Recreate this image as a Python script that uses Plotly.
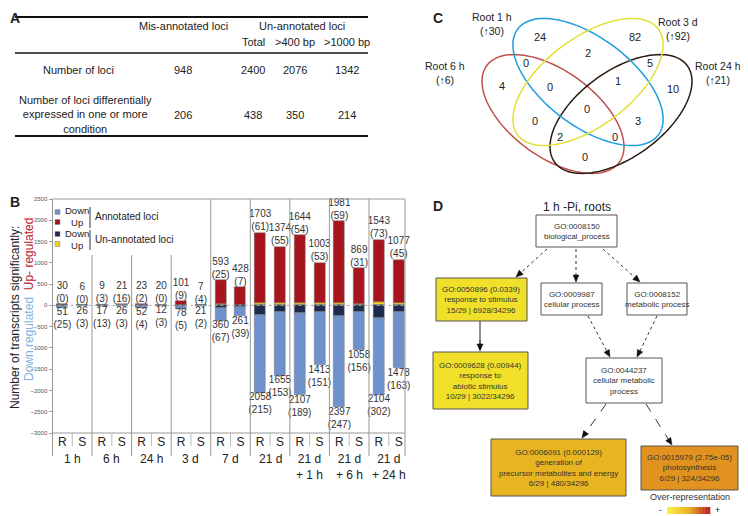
import math
import plotly.graph_objects as go

# the page body has an 8 px margin, so the figure is drawn 8 px in from the corner
OX, OY = 8, 8
W, H = 748, 516
FW, FH = W - OX, H - OY
FONT = "Arial, Liberation Sans, sans-serif"

# ---- panel A: table ----
table_cols = ["Mis-annotated loci", "Total", ">400 bp", ">1000 bp"]
table_rows = ["Number of loci",
              "Number of loci differentially<br>expressed in one or more<br>condition"]
loci_counts = [948, 2400, 2076, 1342]
de_counts = [206, 438, 350, 214]

# ---- panel B: differentially expressed transcripts ----
groups = ["1 h", "6 h", "24 h", "3 d", "7 d", "21 d",
          "21 d<br>+ 1 h", "21 d<br>+ 6 h", "21 d<br>+ 24 h"]
samples = ["R", "S"]
up_total = [30, 6, 9, 21, 23, 20, 101, 7, 593, 428,
            1703, 1374, 1644, 1003, 1981, 869, 1543, 1077]
up_unannotated = [0, 0, 3, 16, 2, 0, 9, 4, 25, 7,
                  61, 55, 54, 53, 59, 31, 73, 45]
down_total = [51, 26, 17, 26, 52, 12, 78, 21, 360, 261,
              2058, 1655, 2107, 1413, 2397, 1058, 2104, 1478]
down_unannotated = [25, 3, 13, 3, 4, 3, 5, 2, 67, 39,
                    215, 153, 189, 151, 247, 156, 302, 163]

# ---- panel C: venn ----
venn_sets = ["Root 1 h", "Root 3 d", "Root 6 h", "Root 24 h"]
venn_up = [30, 92, 6, 21]
venn_counts = [24, 82, 2, 0, 5, 4, 0, 1, 10, 0, 0, 3, 2, 0, 0]

# ---- panel D: GO graph ----
go_ids = ["GO:0008150", "GO:0050896", "GO:0009987", "GO:0008152",
          "GO:0009628", "GO:0044237", "GO:0006091", "GO:0015979"]
go_pvals = [None, "0.0339", None, None, "0.00944", None, "0.000129", "2.75e-05"]
go_names = ["biological_process", "response to stimulus", "cellular process",
            "metabolic process", "response to<br>abiotic stimulus",
            "cellular metabolic<br>process",
            "generation of<br>precursor metabolites and energy", "photosynthesis"]
go_counts = [None, "15/29 | 6928/34296", None, None, "10/29 | 3022/34296",
             None, "6/29 | 480/34296", "6/29 | 324/34296"]


def px(x):
    return (x - OX) / FW


def py(y):
    return 1 - (y - OY) / FH


shapes = []
annos = []


def text(x, y, s, size=11, color="#222", xanchor="center", yanchor="middle",
         bold=False, angle=0):
    if bold:
        s = "<b>" + s + "</b>"
    annos.append(dict(x=px(x), y=py(y), xref="paper", yref="paper", text=s,
                      showarrow=False, xanchor=xanchor, yanchor=yanchor,
                      textangle=angle, font=dict(size=size, color=color, family=FONT)))


def line(x0, y0, x1, y1, color="#333", width=1, dash="solid"):
    shapes.append(dict(type="line", xref="paper", yref="paper",
                       x0=px(x0), y0=py(y0), x1=px(x1), y1=py(y1),
                       line=dict(color=color, width=width, dash=dash)))


def rect(x0, y0, x1, y1, fill="white", color="#555", width=1):
    shapes.append(dict(type="rect", xref="paper", yref="paper",
                       x0=px(x0), y0=py(y0), x1=px(x1), y1=py(y1),
                       fillcolor=fill, line=dict(color=color, width=width)))


def path(pts, color, width=1.5, fill=None):
    d = "M " + " L ".join(f"{px(a):.5f},{py(b):.5f}" for a, b in pts) + " Z"
    shp = dict(type="path", xref="paper", yref="paper", path=d,
               line=dict(color=color, width=width))
    if fill:
        shp["fillcolor"] = fill
    shapes.append(shp)


def arrow(x0, y0, x1, y1, dash="dot"):
    L = math.hypot(x1 - x0, y1 - y0)
    ux, uy = (x1 - x0) / L, (y1 - y0) / L
    hl, hw = 7, 3
    bx, by = x1 - ux * hl, y1 - uy * hl
    line(x0, y0, bx, by, color="#333", width=1, dash=dash)
    path([(x1, y1), (bx - uy * hw, by + ux * hw), (bx + uy * hw, by - ux * hw)],
         "#111", width=0.5, fill="#111")


# ================= panel A =================
text(8, 8, "A", size=14, bold=True, xanchor="left", yanchor="top")
line(15, 17, 368, 17, color="#111", width=2)
line(15, 53, 368, 53, color="#111", width=1.5)
line(15, 136, 368, 136, color="#111", width=2)
col_x = [183, 253, 295, 347]
text(col_x[0], 26, table_cols[0])
text(302, 26, "Un-annotated loci")
for cx, c in zip(col_x[1:], table_cols[1:]):
    text(cx, 42, c)
text(78, 70, table_rows[0])
text(85, 115, table_rows[1])
for cx, a, b in zip(col_x, loci_counts, de_counts):
    text(cx, 70, str(a))
    text(cx, 115, str(b))

# ================= panel B =================
X0, X1, YT, YB, YLOW = 52.5, 405, 199, 433, 456
GW = (X1 - X0) / 8.91
text(8, 202, "B", size=14, bold=True, xanchor="left")

xs = [g + (0.25 if s == 0 else 0.75) for g in range(len(groups)) for s in range(2)]
BLUE, RED, NAVY, YEL = "#7092CC", "#A8141C", "#1F2B4E", "#F2D418"
bar_line = dict(color="#777", width=0.5)
fig = go.Figure()
fig.add_bar(x=xs, y=up_unannotated, marker=dict(color=YEL, line=bar_line), width=0.28)
fig.add_bar(x=xs, y=[t - u for t, u in zip(up_total, up_unannotated)],
            marker=dict(color=RED, line=bar_line), width=0.28)
fig.add_bar(x=xs, y=[-u for u in down_unannotated], marker=dict(color=NAVY, line=bar_line), width=0.28)
fig.add_bar(x=xs, y=[-(t - u) for t, u in zip(down_total, down_unannotated)],
            marker=dict(color=BLUE, line=bar_line), width=0.28)
fig.add_scatter(x=xs, y=up_total, mode="text", cliponaxis=False,
                text=[f"{t}<br>({u})" for t, u in zip(up_total, up_unannotated)],
                textposition="top center", textfont=dict(size=10, color="#333", family=FONT))
fig.add_scatter(x=xs, y=[-t for t in down_total], mode="text", cliponaxis=False,
                text=[f"{t}<br>({u})" for t, u in zip(down_total, down_unannotated)],
                textposition="bottom center", textfont=dict(size=10, color="#333", family=FONT))

# frame and separators
line(X0, YT, X1, YT, color="#999")
line(X0, YB, X1, YB, color="#999")
line(X0, YT, X0, YLOW, color="#999")
line(X1, YT, X1, YLOW, color="#999")
zero_y = YT + 2500 * (YB - YT) / 5500
line(X0, zero_y, X1, zero_y, color="#aaa", dash="dot")
for k in range(1, 9):
    gx = X0 + k * GW
    line(gx, 255 if k < 4 else YT, gx, YLOW, color="#999")
for k in range(9):
    mx = X0 + (k + 0.5) * GW
    line(mx, YB, mx, 446, color="#bbb")
    text(mx, 450, groups[k], size=12, yanchor="top")

# axis titles
text(15, 318, "Number of transcripts significantly:", size=12, angle=-90)
text(29, 300, '<span style="color:#7FB2E0">Down regulated</span>  '
              '<span style="color:#C0202A">Up- regulated</span>', size=12, angle=-90)

# in-plot legend
for yy, cols in [(217, (BLUE, RED)), (239, (NAVY, YEL))]:
    rect(55, yy - 7.5, 60, yy - 2.5, fill=cols[0], color="#888", width=0.5)
    rect(55, yy + 2.5, 60, yy + 7.5, fill=cols[1], color="#888", width=0.5)
    text(63, yy, "Down<br>Up", size=9.5, xanchor="left")
line(90, 207, 90, 228, color="#777", width=1.5)
line(90, 230, 90, 250, color="#777", width=1.5)
text(93, 217, "Annotated loci", size=10, xanchor="left")
text(93, 239, "Un-annotated loci", size=10, xanchor="left")

# ================= panel C =================
text(431, 8, "C", size=14, bold=True, xanchor="left", yanchor="top")


def ellipse(cx, cy, a, b, ang):
    t = math.radians(ang)
    pts = []
    for i in range(120):
        s = 2 * math.pi * i / 120
        ex, ey = a * math.cos(s), b * math.sin(s)
        pts.append((cx + ex * math.cos(t) - ey * math.sin(t),
                    cy + ex * math.sin(t) + ey * math.cos(t)))
    return pts


path(ellipse(553, 114, 82, 43, 36), "#C0504D")
path(ellipse(621, 114, 82, 43, -36), "#2B1A10")
path(ellipse(588, 82, 88, 44, 37), "#1E9FDD")
path(ellipse(588, 82, 88, 44, -37), "#E2E038")

venn_label_pos = [(492, 17), (678, 22), (445, 66), (718, 66)]
for (lx, ly), name, n in zip(venn_label_pos, venn_sets, venn_up):
    text(lx, ly, name, size=10.5)
    text(lx, ly + 14, f"(\u2191{n})", size=10.5)
venn_pos = [(540, 37), (635, 37), (588, 53), (526, 63), (650, 63), (502, 86),
            (550, 87), (618, 81), (673, 89), (587, 109), (535, 121), (638, 121),
            (560, 137), (615, 137), (585, 157)]
for (vx, vy), n in zip(venn_pos, venn_counts):
    text(vx, vy, str(n), size=11)

# ================= panel D =================
text(431, 206, "D", size=14, bold=True, xanchor="left")
text(577, 207, "1 h -Pi, roots", size=12)
boxes = [(536, 215, 617, 247), (436, 278, 527, 321), (541, 283, 602, 315),
         (627, 283, 687, 315), (433, 352, 528, 409), (586, 358, 662, 403),
         (491, 439, 626, 496), (641, 446, 738, 490)]
box_fill = ["white", "#F0E02A", "white", "white", "#F0E02A", "white", "#E8B520", "#E2921E"]
arrow(547, 249, 516, 277)
arrow(576, 249, 576, 282)
arrow(603, 249, 640, 282)
line(480, 321, 480, 345, color="#222", width=1)
arrow(480, 340, 480, 351, dash="solid")
arrow(588, 316, 610, 357)
arrow(657, 316, 637, 357)
arrow(606, 404, 582, 438, dash="dash")
arrow(646, 404, 672, 445, dash="dash")
for (x0, y0, x1, y1), fill, gid, pv, nm, cnt in zip(boxes, box_fill, go_ids, go_pvals, go_names, go_counts):
    rect(x0, y0, x1, y1, fill=fill, color="#555")
    lines = [gid + (f" ({pv})" if pv else "")] + [nm]
    if cnt:
        lines.append(cnt)
    text((x0 + x1) / 2, (y0 + y1) / 2, "<br>".join(lines), size=8, color="#333")

# over-representation colour key
text(690, 497, "Over-representation", size=9, color="#333")
text(660, 510, "-", size=9)
text(717, 510, "+", size=9)
stops = [(248, 240, 60), (236, 176, 32), (190, 28, 30)]
n_seg = 30
for i in range(n_seg):
    f = i / (n_seg - 1) * 2
    j = min(int(f), 1)
    r = f - j
    c = [round(stops[j][k] + (stops[j + 1][k] - stops[j][k]) * r) for k in range(3)]
    x0 = 667 + i * 43 / n_seg
    shapes.append(dict(type="rect", xref="paper", yref="paper",
                       x0=px(x0), x1=px(x0 + 43 / n_seg + 0.3), y0=py(514), y1=py(507),
                       fillcolor=f"rgb({c[0]},{c[1]},{c[2]})", line=dict(width=0)))

fig.update_layout(
    template="none",
    width=FW, height=FH,
    margin=dict(l=0, r=0, t=0, b=0),
    paper_bgcolor="white", plot_bgcolor="rgba(0,0,0,0)",
    barmode="relative", bargap=0, showlegend=False,
    font=dict(family=FONT, color="#222"),
    xaxis=dict(domain=[px(X0), px(X1)], range=[0, 8.91], tickvals=xs,
               ticktext=samples * len(groups), showgrid=False, zeroline=False,
               showline=False, ticks="", automargin=False,
               tickfont=dict(size=12, color="#222")),
    yaxis=dict(domain=[py(YB), py(YT)], range=[-3000, 2500],
               tickvals=list(range(-3000, 2501, 500)), showgrid=False,
               zeroline=False, showline=False, ticks="outside", ticklen=3,
               tickcolor="#999", automargin=False,
               tickfont=dict(size=6, color="#555")),
    shapes=shapes,
    annotations=annos,
)

fig.write_html("out.html")
